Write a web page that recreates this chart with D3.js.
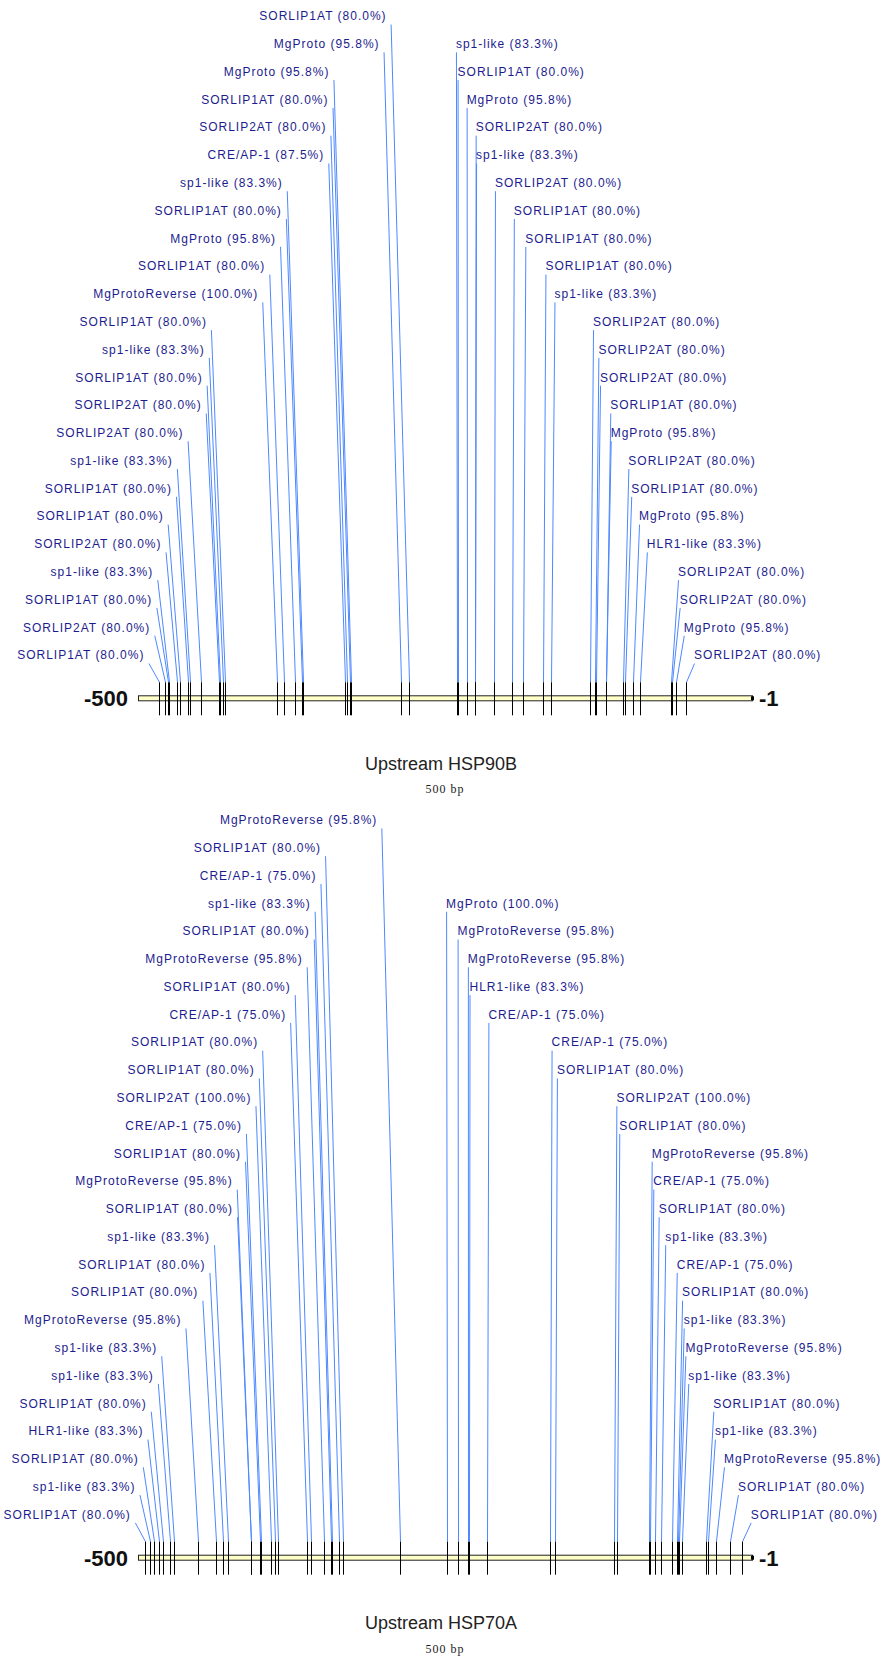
<!DOCTYPE html>
<html>
<head>
<meta charset="utf-8">
<script src="https://d3js.org/d3.v7.min.js"></script>
<style>
  body { margin: 0; background: #fff; }
  svg { display: block; }
</style>
</head>
<body>
<div id="chart"></div>
<script>
// site positions (bp upstream), factor names and match scores for each promoter
var hsp90bPos = [-483, -478, -476, -475, -468, -466, -459, -458, -449, -434, -433, -431, -429,
  -387, -381, -372, -367, -366, -332, -330, -328, -327, -286, -280,
  -241, -240, -233, -226, -226, -211, -196, -187, -171, -164, -133, -129, -128,
  -120, -120, -106, -104, -98, -92, -67, -66, -63, -55];
var hsp90bFactor = ["SORLIP1AT", "SORLIP2AT", "SORLIP1AT", "sp1-like", "SORLIP2AT", "SORLIP1AT",
  "SORLIP1AT", "sp1-like", "SORLIP2AT", "SORLIP2AT", "SORLIP1AT", "sp1-like", "SORLIP1AT",
  "MgProtoReverse", "SORLIP1AT", "MgProto", "SORLIP1AT", "sp1-like", "CRE/AP-1", "SORLIP2AT",
  "SORLIP1AT", "MgProto", "MgProto", "SORLIP1AT",
  "sp1-like", "SORLIP1AT", "MgProto", "SORLIP2AT", "sp1-like", "SORLIP2AT", "SORLIP1AT",
  "SORLIP1AT", "SORLIP1AT", "sp1-like", "SORLIP2AT", "SORLIP2AT", "SORLIP2AT", "SORLIP1AT",
  "MgProto", "SORLIP2AT", "SORLIP1AT", "MgProto", "HLR1-like", "SORLIP2AT", "SORLIP2AT",
  "MgProto", "SORLIP2AT"];
var hsp90bScore = [80, 80, 80, 83.3, 80, 80, 80, 83.3, 80, 80, 80, 83.3, 80,
  100, 80, 95.8, 80, 83.3, 87.5, 80, 80, 95.8, 95.8, 80,
  83.3, 80, 95.8, 80, 83.3, 80, 80, 80, 80, 83.3, 80, 80, 80,
  80, 95.8, 80, 80, 95.8, 83.3, 80, 80, 95.8, 80];

var hsp70aPos = [-494, -490, -487, -483, -480, -474, -471, -451, -437, -431, -427, -408, -408,
  -401, -400, -392, -389, -386, -363, -359, -349, -343, -342, -337, -333, -287,
  -249, -240, -232, -231, -216, -165, -161, -113, -111, -85, -84, -80, -75,
  -66, -62, -61, -60, -58, -38, -37, -30, -19, -9];
var hsp70aFactor = ["SORLIP1AT", "sp1-like", "SORLIP1AT", "HLR1-like", "SORLIP1AT", "sp1-like",
  "sp1-like", "MgProtoReverse", "SORLIP1AT", "SORLIP1AT", "sp1-like", "MgProtoReverse",
  "SORLIP1AT", "SORLIP1AT", "CRE/AP-1", "SORLIP2AT", "SORLIP1AT", "SORLIP1AT", "CRE/AP-1",
  "SORLIP1AT", "MgProtoReverse", "SORLIP1AT", "sp1-like", "CRE/AP-1", "SORLIP1AT", "MgProtoReverse",
  "MgProto", "MgProtoReverse", "MgProtoReverse", "HLR1-like", "CRE/AP-1", "CRE/AP-1", "SORLIP1AT",
  "SORLIP2AT", "SORLIP1AT", "MgProtoReverse", "CRE/AP-1", "SORLIP1AT", "sp1-like", "CRE/AP-1",
  "SORLIP1AT", "sp1-like", "MgProtoReverse", "sp1-like", "SORLIP1AT", "sp1-like", "MgProtoReverse",
  "SORLIP1AT", "SORLIP1AT"];
var hsp70aScore = [80, 83.3, 80, 83.3, 80, 83.3, 83.3, 95.8, 80, 80, 83.3, 95.8, 80,
  80, 75, 100, 80, 80, 75, 80, 95.8, 80, 83.3, 75, 80, 95.8,
  100, 95.8, 95.8, 83.3, 75, 75, 80, 100, 80, 95.8, 75, 80, 83.3,
  75, 80, 83.3, 95.8, 83.3, 80, 83.3, 95.8, 80, 80];

var panelTitles = ["Upstream HSP90B", "Upstream HSP70A"];
var endLabels = ["-500", "-1"];
var lengthLabel = "500 bp";
var seqDomain = [-500, -1];

var WIDTH = 883, HEIGHT = 1657;
var ROW_GAP = 27.78;
var svg = d3.select('#chart').append('svg').attr('width', WIDTH).attr('height', HEIGHT);
svg.append('rect').attr('width', WIDTH).attr('height', HEIGHT).attr('fill', '#fff');

var xScale = d3.scaleLinear().domain(seqDomain).range([138, 752]);

function drawPanel(positions, factors, scores, title, axisY) {
	var g = svg.append('g');
	var sites = positions.map(function(p, i) {
		return { pos: p, name: factors[i], score: scores[i] };
	});
	var mid = (xScale(seqDomain[0]) + xScale(seqDomain[1])) / 2;
	var left = sites.filter(function(d) { return xScale(d.pos) < mid; })
			.sort(function(a, b) { return b.pos - a.pos; });
	var right = sites.filter(function(d) { return xScale(d.pos) >= mid; })
			.sort(function(a, b) { return a.pos - b.pos; });
	var bottomRow = axisY - 43.3;
	var tickTop = axisY - 16, tickBottom = axisY + 17;

	// rows counted up from the axis, outermost site on the lowest row
	left.forEach(function(d, i) {
		var k = left.length - 1 - i;
		d.rowY = bottomRow - k * ROW_GAP;
		d.ax = xScale(d.pos) - (10 + 0.33 * k);
		d.side = 'left';
	});
	right.forEach(function(d, i) {
		var k = right.length - 1 - i;
		d.rowY = bottomRow - k * ROW_GAP;
		d.ax = xScale(d.pos) + 9 - 0.42 * k;
		d.side = 'right';
	});
	var placed = left.concat(right);

	// leader lines
	g.selectAll('.leader').data(placed).enter().append('line')
		.attr('class', 'leader')
		.attr('x1', function(d) { return d.ax; })
		.attr('y1', function(d) { return d.rowY + 8.5; })
		.attr('x2', function(d) { return Math.round(xScale(d.pos)) + 0.5; })
		.attr('y2', tickTop)
		.attr('stroke', '#4d88ff').attr('stroke-width', 1);

	// labels
	g.selectAll('.site-label').data(placed).enter().append('text')
		.attr('class', 'site-label')
		.attr('x', function(d) { return d.side === 'left' ? d.ax - 4.5 : d.ax - 0.5; })
		.attr('y', function(d) { return d.rowY + 4.3; })
		.attr('text-anchor', function(d) { return d.side === 'left' ? 'end' : 'start'; })
		.style('font-family', '"Liberation Sans", Arial, sans-serif')
		.style('font-size', '12px')
		.style('letter-spacing', '1px')
		.attr('fill', '#1c1c8e')
		.text(function(d) { return d.name + ' (' + d.score.toFixed(1) + '%)'; });

	// sequence bar
	g.append('rect')
		.attr('x', xScale(seqDomain[0]) + 0.5).attr('y', axisY - 2.5)
		.attr('width', xScale(seqDomain[1]) - xScale(seqDomain[0])).attr('height', 5)
		.attr('fill', '#ffffc8').attr('stroke', '#222').attr('stroke-width', 1);
	g.append('rect')
		.attr('x', xScale(seqDomain[1]) - 1).attr('y', axisY - 2)
		.attr('width', 3).attr('height', 4).attr('fill', '#000');

	// site ticks
	g.selectAll('.site-tick').data(placed).enter().append('line')
		.attr('class', 'site-tick')
		.attr('x1', function(d) { return Math.round(xScale(d.pos)) + 0.5; })
		.attr('x2', function(d) { return Math.round(xScale(d.pos)) + 0.5; })
		.attr('y1', tickTop).attr('y2', tickBottom)
		.attr('stroke', '#000').attr('stroke-width', 1);

	// end labels
	g.append('text').attr('x', xScale(seqDomain[0]) - 10).attr('y', axisY + 8)
		.attr('text-anchor', 'end')
		.style('font-family', '"Liberation Sans", Arial, sans-serif')
		.style('font-size', '22px').style('font-weight', 'bold')
		.attr('fill', '#111').text(endLabels[0]);
	g.append('text').attr('x', xScale(seqDomain[1]) + 7).attr('y', axisY + 8)
		.attr('text-anchor', 'start')
		.style('font-family', '"Liberation Sans", Arial, sans-serif')
		.style('font-size', '22px').style('font-weight', 'bold')
		.attr('fill', '#111').text(endLabels[1]);

	// titles
	g.append('text').attr('x', 441).attr('y', axisY + 71.5)
		.attr('text-anchor', 'middle')
		.style('font-family', '"Liberation Sans", Arial, sans-serif')
		.style('font-size', '18px')
		.attr('fill', '#222').text(title);
	g.append('text').attr('x', 445).attr('y', axisY + 95)
		.attr('text-anchor', 'middle')
		.style('font-family', '"Liberation Serif", "DejaVu Serif", serif')
		.style('font-size', '12px').style('letter-spacing', '1px')
		.attr('fill', '#222').text(lengthLabel);
}

drawPanel(hsp90bPos, hsp90bFactor, hsp90bScore, panelTitles[0], 698.3);
drawPanel(hsp70aPos, hsp70aFactor, hsp70aScore, panelTitles[1], 1557.7);
</script>
</body>
</html>
